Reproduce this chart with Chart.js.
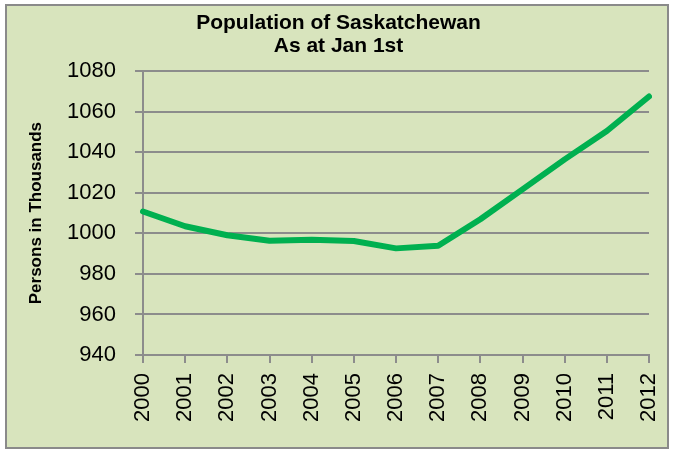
<!DOCTYPE html>
<html>
<head>
<meta charset="utf-8">
<script src="https://cdn.jsdelivr.net/npm/chart.js@4.4.0/dist/chart.umd.min.js"></script>
<style>
    html, body { margin: 0; padding: 0; background: #ffffff; }
    #chart { display: block; }
</style>
</head>
<body>
<canvas id="chart" width="673" height="451"></canvas>
<script>
const years = ['2000', '2001', '2002', '2003', '2004', '2005', '2006', '2007', '2008', '2009', '2010', '2011', '2012'];
const population = [1010.8, 1003.5, 999.1, 996.4, 996.9, 996.2, 992.6, 993.9, 1007.0, 1021.7, 1036.5, 1050.5, 1067.5];
const titleLines = ['Population of Saskatchewan', 'As at Jan 1st'];
const yTitle = 'Persons in Thousands';
const yMin = 940, yMax = 1080, yStep = 20;

const gridGray = '#8c8c8c';

// plot background + outer frame like the Excel chart
const chartFrame = {
    id: 'chartFrame',
    beforeDraw(chart) {
        const ctx = chart.ctx;
        ctx.save();
        ctx.fillStyle = '#ffffff';
        ctx.fillRect(0, 0, chart.width, chart.height);
        ctx.fillStyle = '#d8e4bd';
        ctx.fillRect(6, 5, 662, 443);
        ctx.strokeStyle = '#8a8a8a';
        ctx.lineWidth = 2;
        ctx.strokeRect(6, 5, 662, 443);
        ctx.restore();
    }
};

function createChart() {
    const ctx = document.getElementById('chart').getContext('2d');

    new Chart(ctx, {
        type: 'line',
        data: {
            labels: years,
            datasets: [{
                label: 'Population',
                data: population,
                borderColor: '#00b050',
                borderWidth: 6,
                borderCapStyle: 'round',
                borderJoinStyle: 'round',
                pointRadius: 0,
                tension: 0,
                fill: false
            }]
        },
        options: {
            responsive: false,
            animation: false,
            layout: {
                padding: { top: 4, left: 28, right: 24, bottom: 0 }
            },
            plugins: {
                legend: { display: false },
                tooltip: { enabled: false },
                title: {
                    display: true,
                    text: titleLines,
                    color: '#000000',
                    font: { family: '"Liberation Sans", Arial, sans-serif', size: 21, weight: 'bold', lineHeight: 1.1 },
                    padding: { top: 8, bottom: 13 }
                }
            },
            scales: {
                x: {
                    type: 'category',
                    offset: false,
                    afterFit: (scale) => {
                        scale.height = 96;
                        // rotated labels are thin, no need for the extra side room
                        scale.paddingLeft = 0;
                        scale.paddingRight = 0;
                    },
                    grid: {
                        drawOnChartArea: false,
                        drawTicks: true,
                        tickLength: 8,
                        color: gridGray,
                        lineWidth: 2
                    },
                    border: { display: true, color: gridGray, width: 2 },
                    ticks: {
                        color: '#000000',
                        minRotation: 90,
                        maxRotation: 90,
                        autoSkip: false,
                        padding: 10,
                        font: { family: '"Liberation Sans", Arial, sans-serif', size: 22 }
                    }
                },
                y: {
                    min: yMin,
                    max: yMax,
                    afterFit: (scale) => { scale.width = 115; },
                    grid: {
                        color: gridGray,
                        lineWidth: 2,
                        tickLength: 8
                    },
                    border: { display: true, color: gridGray, width: 2 },
                    ticks: {
                        stepSize: yStep,
                        color: '#000000',
                        padding: 19,
                        callback: (value) => String(value),
                        font: { family: '"Liberation Sans", Arial, sans-serif', size: 22 }
                    },
                    title: {
                        display: true,
                        text: yTitle,
                        color: '#000000',
                        padding: { top: 0, bottom: 0 },
                        font: { family: '"Liberation Sans", Arial, sans-serif', size: 17, weight: 'bold', lineHeight: 1.0 }
                    }
                }
            }
        },
        plugins: [chartFrame]
    });
}

createChart();
</script>
</body>
</html>
